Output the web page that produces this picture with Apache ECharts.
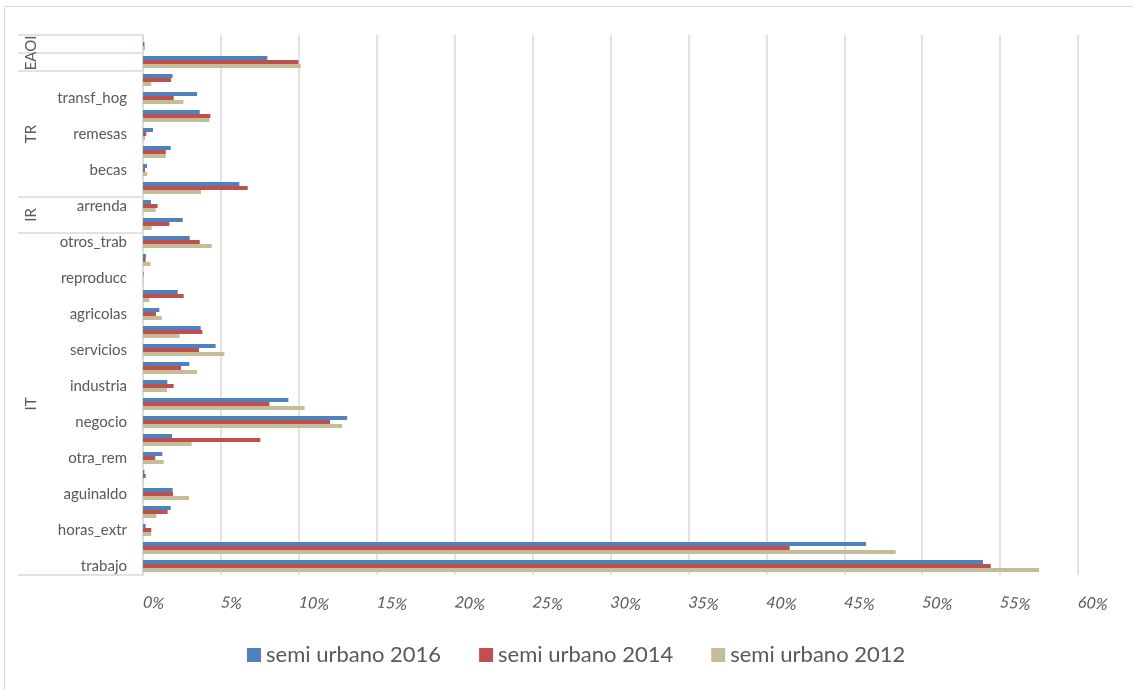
<!DOCTYPE html>
<html>
<head>
<meta charset="utf-8">
<script src="https://cdn.jsdelivr.net/npm/echarts@6/dist/echarts.min.js"></script>
<style>
  html, body { margin: 0; padding: 0; background: #ffffff; }
  #chart { width: 1133px; height: 690px; }
</style>
</head>
<body>
<div id="chart"></div>
<script>
// Income components (share of total income, %), listed bottom to top
const categories = [
  'trabajo', 'sueldos', 'horas_extr', 'comisiones', 'aguinaldo', 'indemtrab',
  'otra_rem', 'remu_espec', 'negocio', 'noagrop', 'industria', 'comercio',
  'servicios', 'agrope', 'agricolas', 'pecuarios', 'reproducc', 'pesca',
  'otros_trab', 'utilidad', 'arrenda', 'jubilacion', 'becas', 'donativos',
  'remesas', 'bene_gob', 'transf_hog', 'trans_inst', 'estim_alqu', 'otros_ing'
];

// Outer category level: group name and first/last row index
const groupNames = ['IT', 'IR', 'TR', 'EAOI'];
const groupFrom  = [0, 19, 21, 28];
const groupTo    = [18, 20, 27, 29];
// Groups whose inner row names are left blank
const blankLabelGroups = ['EAOI'];

const seriesNames = ['semi urbano 2016', 'semi urbano 2014', 'semi urbano 2012'];

const su2016 = [53.9, 46.4, 0.17, 1.78, 1.9, 0.09, 1.24, 1.86, 13.1, 9.33,
                1.56, 2.97, 4.66, 3.7, 1.05, 2.23, 0.04, 0.19, 3.0, 2.55,
                0.51, 6.18, 0.26, 1.78, 0.64, 3.64, 3.47, 1.9, 7.98, 0];
const su2014 = [54.4, 41.5, 0.53, 1.58, 1.93, 0.17, 0.79, 7.53, 12.0, 8.11,
                1.97, 2.44, 3.59, 3.81, 0.83, 2.61, 0.01, 0.17, 3.64, 1.69,
                0.94, 6.72, 0.13, 1.46, 0.21, 4.32, 1.97, 1.8, 9.97, 0.09];
const su2012 = [57.5, 48.3, 0.53, 0.86, 2.95, 0.04, 1.33, 3.12, 12.77, 10.37,
                1.54, 3.47, 5.22, 2.35, 1.2, 0.41, 0.03, 0.49, 4.41, 0.56,
                0.81, 3.72, 0.28, 1.46, 0.13, 4.26, 2.59, 0.53, 10.12, 0.13];

const colors = { '2016': '#4f81bd', '2014': '#c0504d', '2012': '#c4bd97' };
const textColor = '#595959';
const lineColor = '#d9d9d9';
const fontFamily = 'Lato, "Open Sans", sans-serif';

function groupOfRow(i) {
  for (let g = 0; g < groupNames.length; g++) {
    if (i >= groupFrom[g] && i <= groupTo[g]) return groupNames[g];
  }
  return null;
}

const chart = echarts.init(document.getElementById('chart'), null, { renderer: 'canvas' });

function barSeries(name, data, color) {
  return {
    name: name,
    type: 'bar',
    data: data,
    barGap: '0%',
    barCategoryGap: '33%',
    itemStyle: { color: color },
    emphasis: { disabled: true }
  };
}

chart.setOption({
  animation: false,
  backgroundColor: '#ffffff',
  grid: { left: 143, right: 55, top: 35, bottom: 115, outerBoundsMode: 'none' },
  legend: {
    data: seriesNames,
    left: 247,
    top: 644,
    padding: 0,
    itemWidth: 14,
    itemHeight: 14,
    itemGap: 38,
    icon: 'rect',
    textStyle: { color: textColor, fontSize: 22, fontFamily: fontFamily }
  },
  xAxis: {
    type: 'value',
    min: 0,
    max: 60,
    interval: 5,
    axisLine: { show: false },
    axisTick: { show: false },
    splitLine: { show: true, lineStyle: { color: lineColor, width: 1.5 } },
    axisLabel: {
      formatter: '{value}%',
      rotate: -6,
      margin: 27,
      color: textColor,
      fontSize: 16,
      fontStyle: 'italic',
      fontFamily: fontFamily
    }
  },
  yAxis: {
    type: 'category',
    data: categories,
    axisLine: { show: true, lineStyle: { color: lineColor, width: 1.5 } },
    axisTick: { show: false },
    splitLine: { show: false },
    axisLabel: {
      interval: function (index) {
        return index % 2 === 0 && blankLabelGroups.indexOf(groupOfRow(index)) < 0;
      },
      margin: 16,
      color: textColor,
      fontSize: 15,
      fontFamily: fontFamily
    }
  },
  // First series is drawn at the top of each row
  series: [
    barSeries(seriesNames[0], su2016, colors['2016']),
    barSeries(seriesNames[1], su2014, colors['2014']),
    barSeries(seriesNames[2], su2012, colors['2012'])
  ]
});

// Outer category level: boxes and rotated group names in the label column
function drawGroupColumn() {
  const c0 = chart.convertToPixel({ yAxisIndex: 0 }, 0);
  const c1 = chart.convertToPixel({ yAxisIndex: 0 }, 1);
  const band = Math.abs(c0 - c1);
  const axisX = chart.convertToPixel({ xAxisIndex: 0 }, 0);
  const colLeft = 18;
  const rowBottom = i => chart.convertToPixel({ yAxisIndex: 0 }, i) + band / 2;
  const rowTop = i => chart.convertToPixel({ yAxisIndex: 0 }, i) - band / 2;

  const elements = [];
  // Chart frame
  elements.push({
    type: 'rect',
    shape: { x: 4.5, y: 6.5, width: 1400, height: 900 },
    style: { fill: null, stroke: lineColor, lineWidth: 1 },
    silent: true
  });

  const hLines = [];
  for (let g = 0; g < groupNames.length; g++) {
    hLines.push(rowBottom(groupFrom[g]));
    if (blankLabelGroups.indexOf(groupNames[g]) >= 0) {
      for (let i = groupFrom[g] + 1; i <= groupTo[g]; i++) hLines.push(rowBottom(i));
    }
  }
  hLines.push(rowTop(groupTo[groupNames.length - 1]));

  hLines.forEach(y => {
    elements.push({
      type: 'line',
      shape: { x1: colLeft, y1: y, x2: axisX, y2: y },
      style: { stroke: lineColor, lineWidth: 1.5 },
      silent: true
    });
  });

  for (let g = 0; g < groupNames.length; g++) {
    const yMid = (rowBottom(groupFrom[g]) + rowTop(groupTo[g])) / 2;
    elements.push({
      type: 'text',
      x: 31,
      y: yMid,
      rotation: Math.PI / 2,
      style: {
        text: groupNames[g],
        fill: textColor,
        font: '15px ' + fontFamily,
        align: 'center',
        verticalAlign: 'middle'
      },
      silent: true
    });
  }

  chart.setOption({ graphic: { elements: elements } });
}

drawGroupColumn();
</script>
</body>
</html>
